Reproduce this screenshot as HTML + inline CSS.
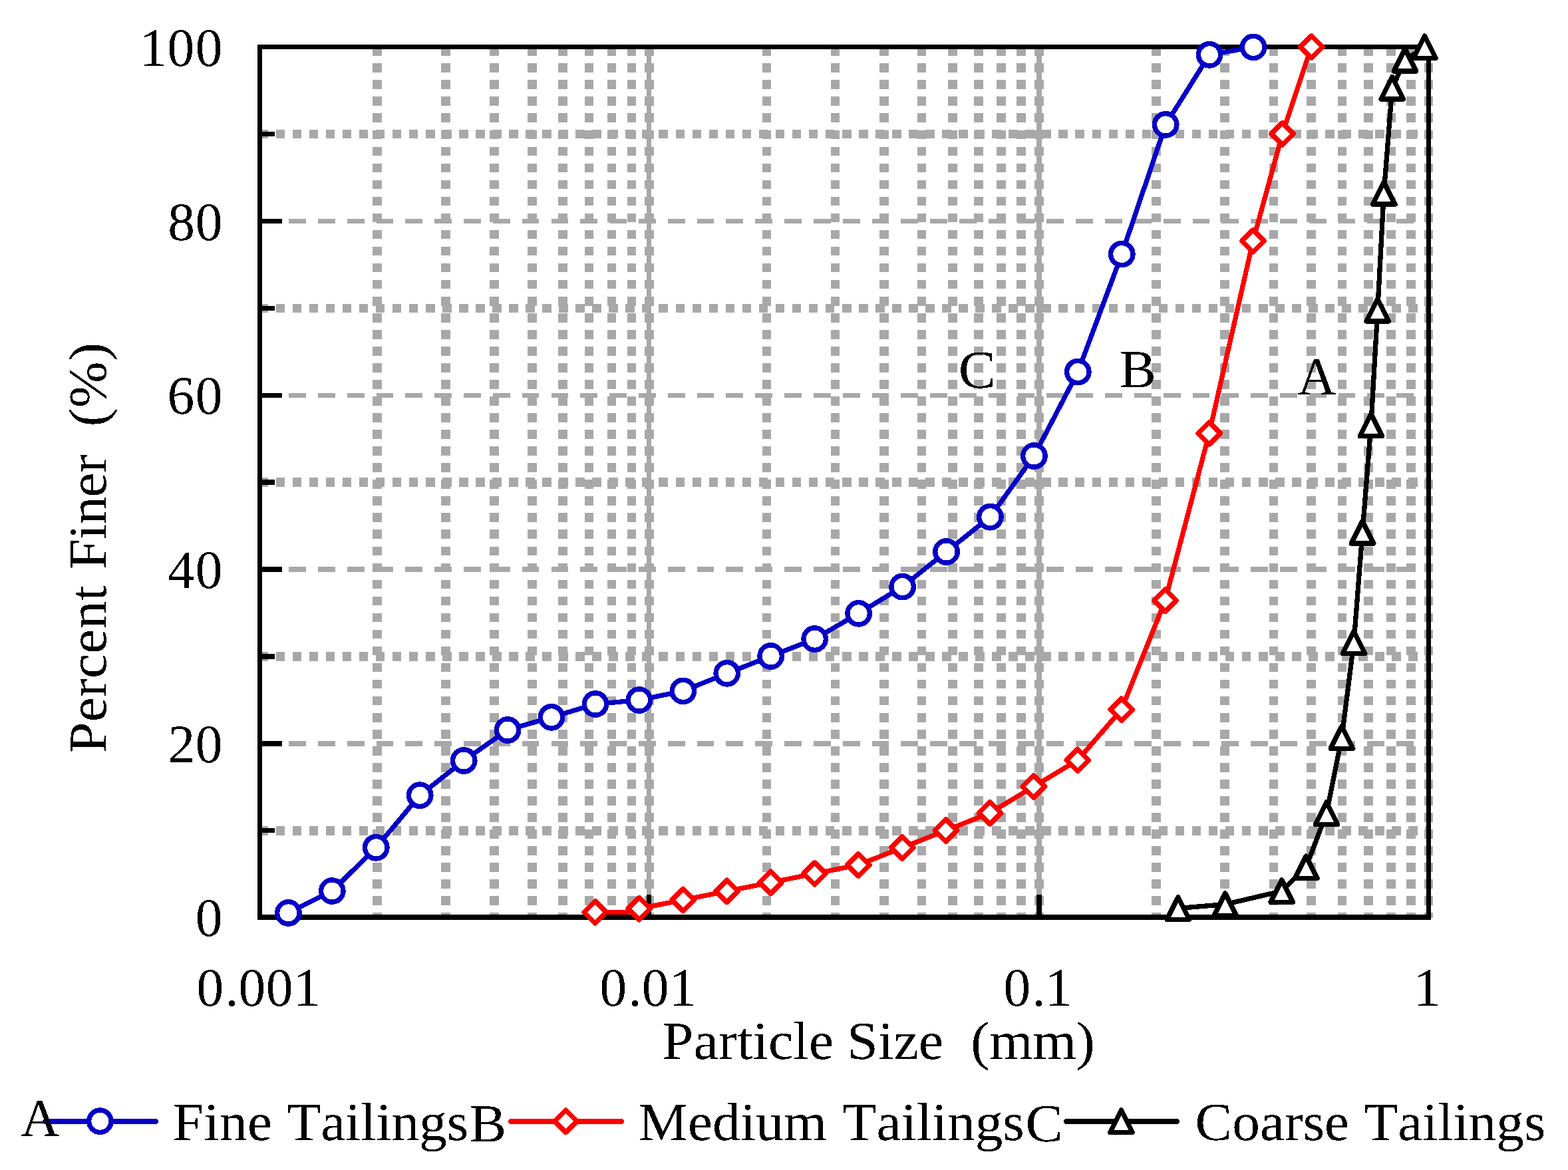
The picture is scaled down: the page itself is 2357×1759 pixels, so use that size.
<!DOCTYPE html>
<html lang="en">
<head>
<meta charset="utf-8">
<title>Percent Finer vs Particle Size</title>
<style>
html,body{margin:0;padding:0;background:#fff;}
body{width:2357px;height:1759px;overflow:hidden;}
svg{display:block;}
</style>
</head>
<body>
<svg width="2357" height="1759" viewBox="0 0 2357 1759" shape-rendering="crispEdges">
<defs><filter id="bin" filterUnits="userSpaceOnUse" x="0" y="0" width="2357" height="1759" color-interpolation-filters="sRGB"><feComponentTransfer><feFuncA type="discrete" tableValues="0 1"/></feComponentTransfer></filter></defs>
<rect width="2357" height="1759" fill="#fff"/>
<g stroke="#a8a8a8" fill="none">
<path d="M566.80 70.3V1380 M669.93 70.3V1380 M743.11 70.3V1380 M799.86 70.3V1380 M846.24 70.3V1380 M885.45 70.3V1380 M919.41 70.3V1380 M949.37 70.3V1380 M976.17 70.3V1380 M1152.47 70.3V1380 M1255.60 70.3V1380 M1328.77 70.3V1380 M1385.53 70.3V1380 M1431.90 70.3V1380 M1471.11 70.3V1380 M1505.08 70.3V1380 M1535.03 70.3V1380 M1561.83 70.3V1380 M1738.14 70.3V1380 M1841.27 70.3V1380 M1914.44 70.3V1380 M1971.20 70.3V1380 M2017.57 70.3V1380 M2056.78 70.3V1380 M2090.74 70.3V1380 M2120.70 70.3V1380 M2147.50 70.3V1380" stroke-width="13.6" stroke-dasharray="13.6 11.44"/>
<path d="M975.5 70V1379" stroke-width="7"/>
<path d="M1562 70V1379" stroke-width="8"/>
<path d="M389.5 1248.75H2147.5 M389.5 986.95H2147.5 M389.5 725.15H2147.5 M389.5 463.35H2147.5 M389.5 201.55H2147.5" stroke-width="13.6" stroke-dasharray="13.6 11.44"/>
<path d="M390.3 1117.85H2147.5 M390.3 856.05H2147.5 M390.3 594.25H2147.5 M390.3 332.45H2147.5" stroke-width="7.4" stroke-dasharray="25.8 18.02"/>
</g>
<g stroke="#000" fill="none" stroke-width="7">
<path d="M387 70.5H2151 M2147.5 70.5V1379 M390.5 67V1383"/>
<path d="M387 1379H2151" stroke-width="8"/>
<path d="M390.5 1117.85H424 M390.5 856.05H424 M390.5 594.25H424 M390.5 332.45H424 M390.5 1248.75H413 M390.5 986.95H413 M390.5 725.15H413 M390.5 463.35H413 M390.5 201.55H413" stroke-width="7.4"/>
<path d="M975.5 1379V1345.2"/>
<path d="M1562 1379V1345.2" stroke-width="8"/>
</g>
<path d="M433.4 1372.4 L499.3 1339.5 L565.3 1274.3 L631.2 1195.7 L697.2 1143.5 L763.1 1097.5 L829.0 1078.3 L895.0 1058.5 L960.9 1052.5 L1026.9 1038.9 L1092.8 1012.3 L1158.7 986.5 L1224.7 960.6 L1290.6 922.3 L1356.6 882.1 L1422.5 829.5 L1488.4 777.2 L1554.4 685.5 L1620.3 559.1 L1686.3 382.1 L1752.2 187.4 L1818.1 82.3 L1884.1 70.9" stroke="#0600c6" stroke-width="7.3" fill="none" stroke-linejoin="round"/>
<g fill="#fff" stroke-width="7.4" stroke-linejoin="round">
<circle cx="433.4" cy="1372.4" r="16.7" stroke="#0600c6"/>
<circle cx="499.3" cy="1339.5" r="16.7" stroke="#0600c6"/>
<circle cx="565.3" cy="1274.3" r="16.7" stroke="#0600c6"/>
<circle cx="631.2" cy="1195.7" r="16.7" stroke="#0600c6"/>
<circle cx="697.2" cy="1143.5" r="16.7" stroke="#0600c6"/>
<circle cx="763.1" cy="1097.5" r="16.7" stroke="#0600c6"/>
<circle cx="829.0" cy="1078.3" r="16.7" stroke="#0600c6"/>
<circle cx="895.0" cy="1058.5" r="16.7" stroke="#0600c6"/>
<circle cx="960.9" cy="1052.5" r="16.7" stroke="#0600c6"/>
<circle cx="1026.9" cy="1038.9" r="16.7" stroke="#0600c6"/>
<circle cx="1092.8" cy="1012.3" r="16.7" stroke="#0600c6"/>
<circle cx="1158.7" cy="986.5" r="16.7" stroke="#0600c6"/>
<circle cx="1224.7" cy="960.6" r="16.7" stroke="#0600c6"/>
<circle cx="1290.6" cy="922.3" r="16.7" stroke="#0600c6"/>
<circle cx="1356.6" cy="882.1" r="16.7" stroke="#0600c6"/>
<circle cx="1422.5" cy="829.5" r="16.7" stroke="#0600c6"/>
<circle cx="1488.4" cy="777.2" r="16.7" stroke="#0600c6"/>
<circle cx="1554.4" cy="685.5" r="16.7" stroke="#0600c6"/>
<circle cx="1620.3" cy="559.1" r="16.7" stroke="#0600c6"/>
<circle cx="1686.3" cy="382.1" r="16.7" stroke="#0600c6"/>
<circle cx="1752.2" cy="187.4" r="16.7" stroke="#0600c6"/>
<circle cx="1818.1" cy="82.3" r="16.7" stroke="#0600c6"/>
<circle cx="1884.1" cy="70.9" r="16.7" stroke="#0600c6"/>
</g>
<path d="M894.7 1371.3 L942.8 1371.3 L960.8 1366.1 L1026.9 1353.0 L1092.6 1339.9 L1158.5 1326.8 L1224.5 1313.4 L1290.2 1300.4 L1356.3 1274.4 L1421.9 1248.5 L1488.0 1222.3 L1553.9 1182.5 L1619.9 1142.9 L1685.8 1066.8 L1751.5 902.8 L1817.7 651.4 L1883.5 362.3 L1927.7 201.2 L1971.3 70.5" stroke="#fd0000" stroke-width="7.3" fill="none" stroke-linejoin="round"/>
<g fill="#fff" stroke-width="7.4" stroke-linejoin="round">
<path d="M894.7 1354.6L911.4 1371.3L894.7 1388.0L878.0 1371.3Z" stroke="#fd0000"/>
<path d="M960.8 1349.4L977.5 1366.1L960.8 1382.8L944.1 1366.1Z" stroke="#fd0000"/>
<path d="M1026.9 1336.3L1043.6 1353.0L1026.9 1369.7L1010.2 1353.0Z" stroke="#fd0000"/>
<path d="M1092.6 1323.2L1109.3 1339.9L1092.6 1356.6L1075.9 1339.9Z" stroke="#fd0000"/>
<path d="M1158.5 1310.1L1175.2 1326.8L1158.5 1343.5L1141.8 1326.8Z" stroke="#fd0000"/>
<path d="M1224.5 1296.7L1241.2 1313.4L1224.5 1330.1L1207.8 1313.4Z" stroke="#fd0000"/>
<path d="M1290.2 1283.7L1306.9 1300.4L1290.2 1317.1L1273.5 1300.4Z" stroke="#fd0000"/>
<path d="M1356.3 1257.7L1373.0 1274.4L1356.3 1291.1L1339.6 1274.4Z" stroke="#fd0000"/>
<path d="M1421.9 1231.8L1438.6 1248.5L1421.9 1265.2L1405.2 1248.5Z" stroke="#fd0000"/>
<path d="M1488.0 1205.6L1504.7 1222.3L1488.0 1239.0L1471.3 1222.3Z" stroke="#fd0000"/>
<path d="M1553.9 1165.8L1570.6 1182.5L1553.9 1199.2L1537.2 1182.5Z" stroke="#fd0000"/>
<path d="M1619.9 1126.2L1636.6 1142.9L1619.9 1159.6L1603.2 1142.9Z" stroke="#fd0000"/>
<path d="M1685.8 1050.1L1702.5 1066.8L1685.8 1083.5L1669.1 1066.8Z" stroke="#fd0000"/>
<path d="M1751.5 886.1L1768.2 902.8L1751.5 919.5L1734.8 902.8Z" stroke="#fd0000"/>
<path d="M1817.7 634.7L1834.4 651.4L1817.7 668.1L1801.0 651.4Z" stroke="#fd0000"/>
<path d="M1883.5 345.6L1900.2 362.3L1883.5 379.0L1866.8 362.3Z" stroke="#fd0000"/>
<path d="M1927.7 184.5L1944.4 201.2L1927.7 217.9L1911.0 201.2Z" stroke="#fd0000"/>
<path d="M1971.3 53.8L1988.0 70.5L1971.3 87.2L1954.6 70.5Z" stroke="#fd0000"/>
</g>
<path d="M1771.0 1365.5 L1841.7 1359.6 L1926.8 1339.7 L1963.3 1303.7 L1994.0 1222.6 L2017.0 1108.5 L2035.1 965.7 L2048.0 800.4 L2060.9 639.0 L2070.8 466.2 L2080.2 290.4 L2092.7 132.2 L2112.0 90.3 L2141.5 70.8" stroke="#000" stroke-width="7.3" fill="none" stroke-linejoin="round"/>
<g fill="#fff" stroke-width="7.4" stroke-linejoin="round">
<path d="M1771.0 1348.8L1787.7 1382.2L1754.3 1382.2Z" stroke="#000"/>
<path d="M1841.7 1342.9L1858.4 1376.3L1825.0 1376.3Z" stroke="#000"/>
<path d="M1926.8 1323.0L1943.5 1356.4L1910.1 1356.4Z" stroke="#000"/>
<path d="M1963.3 1287.0L1980.0 1320.4L1946.6 1320.4Z" stroke="#000"/>
<path d="M1994.0 1205.9L2010.7 1239.3L1977.3 1239.3Z" stroke="#000"/>
<path d="M2017.0 1091.8L2033.7 1125.2L2000.3 1125.2Z" stroke="#000"/>
<path d="M2035.1 949.0L2051.8 982.4L2018.4 982.4Z" stroke="#000"/>
<path d="M2048.0 783.7L2064.7 817.1L2031.3 817.1Z" stroke="#000"/>
<path d="M2060.9 622.3L2077.6 655.7L2044.2 655.7Z" stroke="#000"/>
<path d="M2070.8 449.5L2087.5 482.9L2054.1 482.9Z" stroke="#000"/>
<path d="M2080.2 273.7L2096.9 307.1L2063.5 307.1Z" stroke="#000"/>
<path d="M2092.7 115.5L2109.4 148.9L2076.0 148.9Z" stroke="#000"/>
<path d="M2112.0 73.6L2128.7 107.0L2095.3 107.0Z" stroke="#000"/>
<path d="M2141.5 54.1L2158.2 87.5L2124.8 87.5Z" stroke="#000"/>
</g>
<path d="M68.0 1686.0H234.0" stroke="#0600c6" stroke-width="8" stroke-linecap="round" fill="none"/>
<g fill="#fff" stroke-width="7.4" stroke-linejoin="round"><circle cx="150.4" cy="1685.7" r="16.7" stroke="#0600c6"/></g>
<path d="M767.9 1686.0H934.0" stroke="#fd0000" stroke-width="8" stroke-linecap="round" fill="none"/>
<g fill="#fff" stroke-width="7.4" stroke-linejoin="round"><path d="M850.4 1669.0L867.1 1685.7L850.4 1702.4L833.6 1685.7Z" stroke="#fd0000"/></g>
<path d="M1603.0 1686.0H1769.0" stroke="#000" stroke-width="8" stroke-linecap="round" fill="none"/>
<g fill="#fff" stroke-width="7.4" stroke-linejoin="round"><path d="M1685.4 1669.0L1702.1 1702.4L1668.7 1702.4Z" stroke="#000"/></g>
<g font-family="'Liberation Serif', serif" fill="#000" style="font-kerning:none;font-variant-ligatures:none;white-space:pre" text-rendering="geometricPrecision" filter="url(#bin)">
<text x="210.0 251.5 293.7" y="99.20" font-size="81.40">100</text>
<text x="252.2 293.7" y="360.80" font-size="81.40">80</text>
<text x="251.6 293.7" y="622.40" font-size="81.40">60</text>
<text x="252.0 293.7" y="884.00" font-size="81.40">40</text>
<text x="252.6 293.7" y="1145.60" font-size="81.40">20</text>
<text x="293.7" y="1407.20" font-size="81.40">0</text>
<text x="295.6 338.3 358.6 399.7 441.0" y="1512.00" font-size="81.40">0.001</text>
<text x="901.6 944.2 964.7 1006.1" y="1512.00" font-size="81.40">0.01</text>
<text x="1508.4 1551.3 1571.1" y="1512.00" font-size="81.40">0.1</text>
<text x="2124.9" y="1512.00" font-size="81.40">1</text>
<text transform="translate(0 1591.65) scale(1 0.9584)" x="995.6 1042.5 1079.9 1108.0 1131.4 1154.9 1192.3 1215.7 1253.1 1273.1 1320.0 1343.4 1380.8 1418.2 1418.2 1459.3 1487.2 1552.5 1617.8" y="0" font-size="84.20" xml:space="preserve">Particle Size  (mm)</text>
<text transform="translate(158.90 0) rotate(-90) scale(1 0.9676)" x="-1132.1 -1085.3 -1048.0 -1020.0 -982.7 -945.3 -903.3 -880.1 -856.3 -810.9 -788.2 -747.4 -711.1 -683.4 -683.4 -641.3 -613.1 -542.8" y="0" font-size="83.40" xml:space="preserve">Percent Finer  (%)</text>
<text transform="translate(0 592.70) scale(1 1.0053)" x="1950.6" y="0" font-size="80.27" xml:space="preserve">A</text>
<text transform="translate(0 581.80) scale(1 0.9706)" x="1682.6" y="0" font-size="83.14" xml:space="preserve">B</text>
<text transform="translate(0 582.50) scale(1 0.9597)" x="1440.7" y="0" font-size="84.09" xml:space="preserve">C</text>
<text transform="translate(0 1707.70) scale(1 1.0018)" x="31.3" y="0" font-size="80.56" xml:space="preserve">A</text>
<text transform="translate(0 1713.90) scale(1 0.9660)" x="259.6 306.5 329.9 372.0 409.1 431.4 482.2 519.1 542.3 565.4 588.5 630.1 671.7" y="0" font-size="83.54" xml:space="preserve">Fine Tailings</text>
<text transform="translate(0 1716.10) scale(1 0.9647)" x="705.5" y="0" font-size="83.65" xml:space="preserve">B</text>
<text transform="translate(0 1713.90) scale(1 0.9668)" x="959.7 1034.0 1071.1 1112.9 1136.2 1178.0 1242.9 1266.6 1317.5 1354.5 1377.7 1400.8 1424.0 1465.7 1507.3" y="0" font-size="83.47" xml:space="preserve">Medium Tailings</text>
<text transform="translate(0 1716.00) scale(1 0.9597)" x="1541.5" y="0" font-size="84.09" xml:space="preserve">C</text>
<text transform="translate(0 1713.90) scale(1 0.9686)" x="1796.6 1852.2 1893.9 1930.9 1958.7 1991.1 2028.1 2050.4 2101.3 2138.2 2161.4 2184.5 2207.6 2249.3 2290.9" y="0" font-size="83.32" xml:space="preserve">Coarse Tailings</text>
</g>
</svg>
</body>
</html>
